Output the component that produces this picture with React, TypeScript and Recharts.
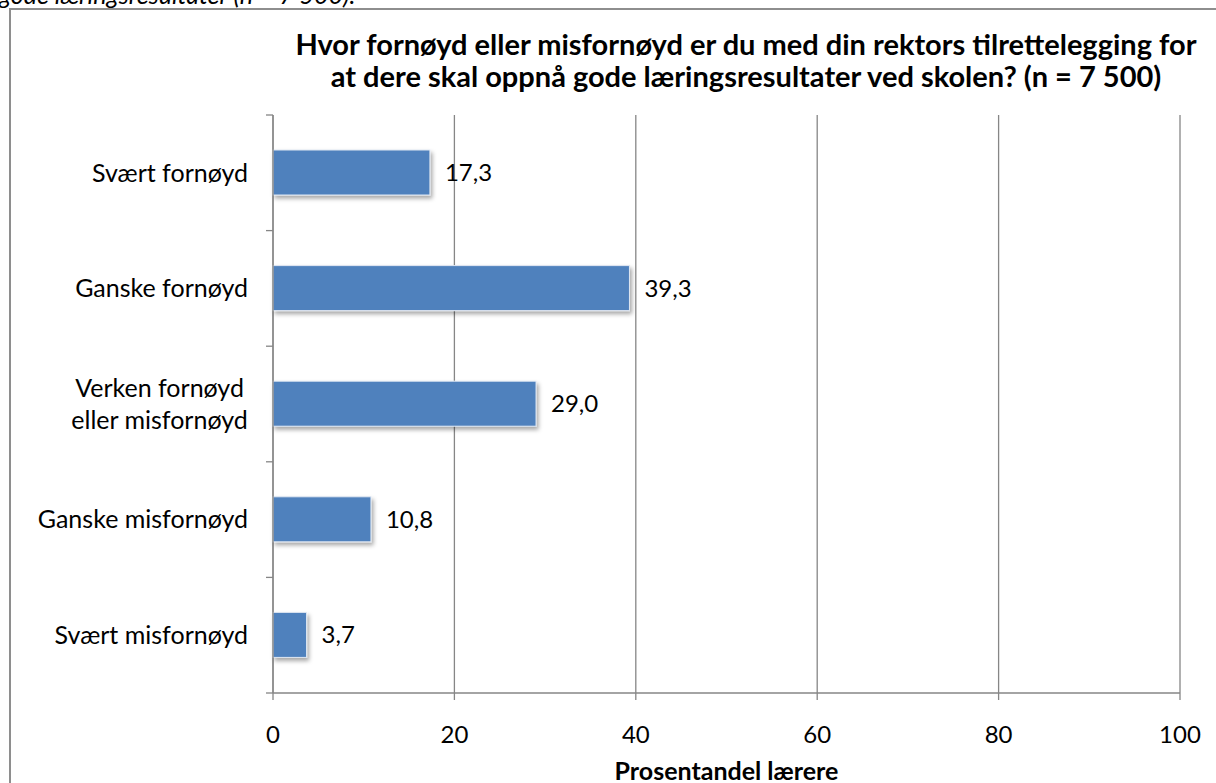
import React from 'react';
import { BarChart, Bar, XAxis, YAxis, CartesianGrid, LabelList } from 'recharts';

const categories = [
  'Svært fornøyd',
  'Ganske fornøyd',
  'Verken fornøyd\neller misfornøyd',
  'Ganske misfornøyd',
  'Svært misfornøyd',
];
const values = [17.3, 39.3, 29.0, 10.8, 3.7];
const xTicks = [0, 20, 40, 60, 80, 100];
const titleLines = [
  'Hvor fornøyd eller misfornøyd er du med din rektors tilrettelegging for',
  'at dere skal oppnå gode læringsresultater ved skolen? (n = 7 500)',
];
const axisTitle = 'Prosentandel lærere';
const captionTail = 'gode læringsresultater (n = 7 500).';

const data = categories.map((c, i) => ({ name: c, value: values[i] }));

const FONT = 'Lato, "Open Sans", sans-serif';
const GRAY = '#868686';
const BLUE = '#4F81BD';
const CAT_SIZE = 25;
const TICK_SIZE = 7;
const TICK_MARGIN = 18;

let measureCtx: CanvasRenderingContext2D | null = null;
const measure = (s: string, size: number) => {
  if (!measureCtx) {
    const c = document.createElement('canvas');
    measureCtx = c.getContext('2d');
  }
  if (!measureCtx) return s.length * size * 0.5;
  measureCtx.font = `${size}px Lato`;
  return measureCtx.measureText(s).width;
};

const CategoryTick = (props: any) => {
  const { x, y, payload, index, visibleTicksCount, height } = props;
  const count = visibleTicksCount || categories.length;
  const half = payload && payload.offset ? payload.offset : height / count / 2;
  const axisX = x + TICK_SIZE + TICK_MARGIN;
  const lines = String(payload.value).split('\n');
  const lh = 32;
  const maxW = Math.max(...lines.map((l) => measure(l, CAT_SIZE)));
  const cx = x - maxW / 2;
  const first = y + CAT_SIZE * 0.355 - ((lines.length - 1) * lh) / 2;
  return (
    <g>
      <line x1={axisX - TICK_SIZE} x2={axisX} y1={y - half} y2={y - half} stroke={GRAY} strokeWidth={1.3} />
      {index === count - 1 && (
        <line x1={axisX - TICK_SIZE} x2={axisX} y1={y + half} y2={y + half} stroke={GRAY} strokeWidth={1.3} />
      )}
      <text
        x={lines.length > 1 ? cx : x}
        y={first}
        textAnchor={lines.length > 1 ? 'middle' : 'end'}
        fontFamily={FONT}
        fontSize={CAT_SIZE}
        fill="#000"
      >
        {lines.map((l, i) => (
          <tspan key={i} x={lines.length > 1 ? cx : x} y={first + i * lh}>
            {l}
          </tspan>
        ))}
      </text>
    </g>
  );
};

const ShadowBar = (props: any) => {
  const { x, y, width, height } = props;
  if (width <= 0) return null;
  return (
    <rect
      x={x}
      y={y}
      width={width}
      height={height}
      fill={BLUE}
      stroke="#dfe7f2"
      strokeWidth={1}
      filter="url(#barShadow)"
    />
  );
};

const fmt = (v: any) => Number(v).toFixed(1).replace('.', ',');

export default function App() {
  return (
    <div
      style={{
        position: 'fixed',
        left: 0,
        top: 0,
        width: 1216,
        height: 783,
        overflow: 'hidden',
        background: '#fff',
      }}
    >
      <svg width={0} height={0} style={{ position: 'absolute' }}>
        <defs>
          <filter id="barShadow" x="-20%" y="-30%" width="140%" height="170%">
            <feDropShadow dx={2} dy={3} stdDeviation={2} floodColor="#000" floodOpacity={0.35} />
          </filter>
        </defs>
      </svg>
      <div
        style={{
          position: 'absolute',
          left: -1,
          top: -20,
          fontFamily: FONT,
          fontStyle: 'italic',
          fontSize: 25,
          lineHeight: '28px',
          whiteSpace: 'nowrap',
          color: '#000',
        }}
      >
        {captionTail}
      </div>
      <div
        style={{
          position: 'absolute',
          left: 9,
          top: 8,
          width: 1400,
          height: 1000,
          border: '2px solid #8e8e8e',
          boxSizing: 'border-box',
        }}
      />
      <svg
        width={1216}
        height={110}
        style={{ position: 'absolute', left: 0, top: 0 }}
      >
        {titleLines.map((t, i) => (
          <text
            key={i}
            x={746}
            y={55 + i * 32}
            textAnchor="middle"
            fontFamily={FONT}
            fontWeight={700}
            fontSize={29}
            fill="#000"
          >
            {t}
          </text>
        ))}
      </svg>
      <div style={{ position: 'absolute', left: 0, top: 0 }}>
        <BarChart
          width={1216}
          height={783}
          data={data}
          layout="vertical"
          margin={{ top: 115, right: 36, bottom: 0, left: 10 }}
          barSize={45}
        >
          <CartesianGrid horizontal={false} stroke={GRAY} strokeWidth={1.3} />
          <XAxis
            type="number"
            domain={[0, 100]}
            ticks={xTicks}
            interval={0}
            height={90}
            axisLine={{ stroke: GRAY, strokeWidth: 1.3 }}
            tickLine={{ stroke: GRAY, strokeWidth: 1.3 }}
            tickSize={TICK_SIZE}
            tickMargin={26}
            tick={{ fill: '#000', fontFamily: FONT, fontSize: 24 }}
            label={{
              value: axisTitle,
              position: 'insideBottom',
              offset: 3,
              fill: '#000',
              fontFamily: FONT,
              fontWeight: 700,
              fontSize: 25,
            }}
          />
          <YAxis
            type="category"
            dataKey="name"
            width={263}
            axisLine={{ stroke: GRAY, strokeWidth: 1.3 }}
            tickLine={false}
            tickSize={TICK_SIZE}
            tickMargin={TICK_MARGIN}
            interval={0}
            tick={<CategoryTick />}
          />
          <Bar dataKey="value" isAnimationActive={false} shape={<ShadowBar />}>
            <LabelList
              dataKey="value"
              position="right"
              offset={15}
              formatter={fmt}
              fill="#000"
              fontFamily={FONT}
              fontSize={24}
            />
          </Bar>
        </BarChart>
      </div>
    </div>
  );
}
